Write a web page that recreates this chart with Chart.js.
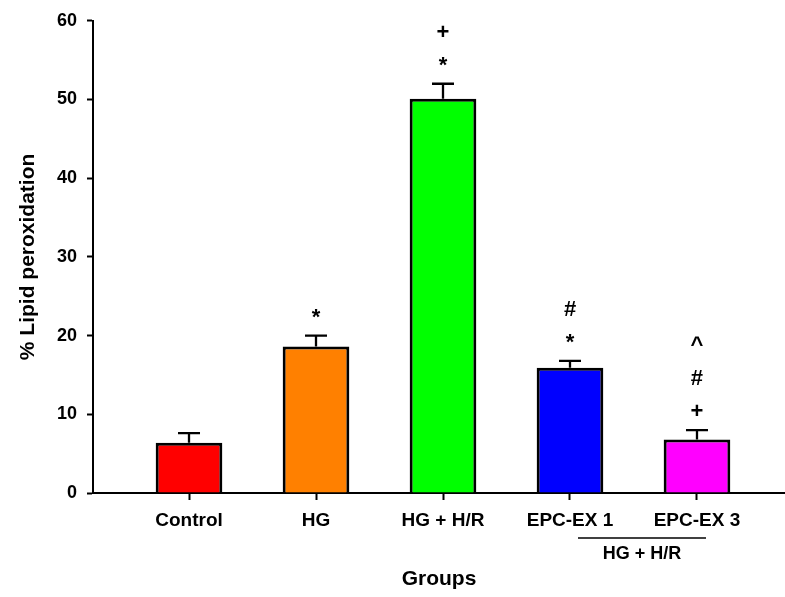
<!DOCTYPE html>
<html>
<head>
<meta charset="utf-8">
<script src="https://cdn.jsdelivr.net/npm/chart.js@4"></script>
<style>
  body { margin: 0; background: #fff; }
  canvas { display: block; }
</style>
</head>
<body>
<canvas id="lipidChart" width="785" height="597"></canvas>
<script>
var groups = ["Control", "HG", "HG + H/R", "EPC-EX 1", "EPC-EX 3"];
var lipidValues = [6.4, 18.6, 50.1, 15.9, 6.8];
var lipidErrors = [1.2, 1.4, 1.9, 0.9, 1.2];
var barColors = ["#ff0000", "#ff8000", "#00ff00", "#0000ff", "#ff00ff"];
var marks = [[], ["*"], ["*", "+"], ["*", "#"], ["+", "#", "^"]];
var yTicks = [0, 10, 20, 30, 40, 50, 60];
var subGroup = "HG + H/R";
var subGroupFrom = 3;
var subGroupTo = 4;

var fontFamily = "'Liberation Sans', Arial, sans-serif";
Chart.defaults.color = "#000";
Chart.defaults.font.family = fontFamily;

// error bars, significance marks and the group bracket under the axis
var extras = {
    id: 'extras',
    afterDatasetsDraw: function (chart) {
        var ctx = chart.ctx;
        var x = chart.scales.x;
        var y = chart.scales.y;
        var meta = chart.getDatasetMeta(0);
        ctx.save();
        ctx.strokeStyle = "#000";
        ctx.fillStyle = "#000";
        ctx.lineWidth = 2.3;
        meta.data.forEach(function (bar, i) {
            var yBase = y.getPixelForValue(lipidValues[i]);
            var yTop = y.getPixelForValue(lipidValues[i] + lipidErrors[i]);
            ctx.beginPath();
            ctx.moveTo(bar.x, yBase);
            ctx.lineTo(bar.x, yTop);
            ctx.moveTo(bar.x - 11, yTop);
            ctx.lineTo(bar.x + 11, yTop);
            ctx.stroke();

            ctx.font = "bold 22px " + fontFamily;
            ctx.textAlign = "center";
            ctx.textBaseline = "alphabetic";
            marks[i].forEach(function (m, k) {
                ctx.fillText(m, bar.x, yTop - 12 - k * 33);
            });
        });

        var x1 = x.getPixelForValue(subGroupFrom) + 8;
        var x2 = x.getPixelForValue(subGroupTo) + 9;
        var yLine = chart.chartArea.bottom + 45;
        ctx.lineWidth = 1.5;
        ctx.beginPath();
        ctx.moveTo(x1, yLine);
        ctx.lineTo(x2, yLine);
        ctx.stroke();
        ctx.font = "bold 18px " + fontFamily;
        ctx.fillText(subGroup, (x1 + x2) / 2, chart.chartArea.bottom + 66);
        ctx.restore();
    }
};

var ctxL = document.getElementById("lipidChart").getContext('2d');

var myBarChart = new Chart(ctxL, {
    type: 'bar',
    data: {
        datasets: [{
            data: lipidValues.map(function (v, i) { return { x: i, y: v }; }),
            backgroundColor: barColors,
            borderColor: "#000",
            borderWidth: 3,
            categoryPercentage: 1,
            barPercentage: 0.525
        }]
    },
    options: {
        responsive: false,
        animation: false,
        layout: { padding: { top: 17, right: 0, left: 0, bottom: 0 } },
        plugins: {
            legend: { display: false },
            tooltip: { enabled: false }
        },
        scales: {
            x: {
                type: 'linear',
                offset: false,
                min: -0.756,
                max: 4.693,
                afterBuildTicks: function (scale) {
                    scale.ticks = groups.map(function (g, i) { return { value: i }; });
                },
                afterFit: function (scale) { scale.height = 104; },
                ticks: {
                    callback: function (value) { return groups[value]; },
                    font: { size: 19, weight: 'bold' },
                    padding: 9,
                    maxRotation: 0
                },
                grid: {
                    offset: false,
                    drawOnChartArea: false,
                    color: "#000",
                    tickColor: "#000",
                    tickLength: 7,
                    tickWidth: 2
                },
                border: { color: "#000", width: 2 },
                title: {
                    display: true,
                    text: "Groups",
                    font: { size: 21, weight: 'bold' },
                    padding: { top: 0, bottom: 5 }
                }
            },
            y: {
                min: 0,
                max: 60,
                afterBuildTicks: function (scale) {
                    scale.ticks = yTicks.map(function (t) { return { value: t }; });
                },
                afterFit: function (scale) { scale.width = 93; },
                ticks: {
                    font: { size: 18, weight: 'bold' },
                    padding: 10
                },
                grid: {
                    drawOnChartArea: false,
                    color: "#000",
                    tickColor: "#000",
                    tickLength: 6,
                    tickWidth: 2
                },
                border: { color: "#000", width: 2 },
                title: {
                    display: true,
                    text: "% Lipid peroxidation",
                    font: { size: 21, weight: 'bold' },
                    padding: { top: 16, bottom: 0 }
                }
            }
        }
    },
    plugins: [extras]
});
</script>
</body>
</html>
